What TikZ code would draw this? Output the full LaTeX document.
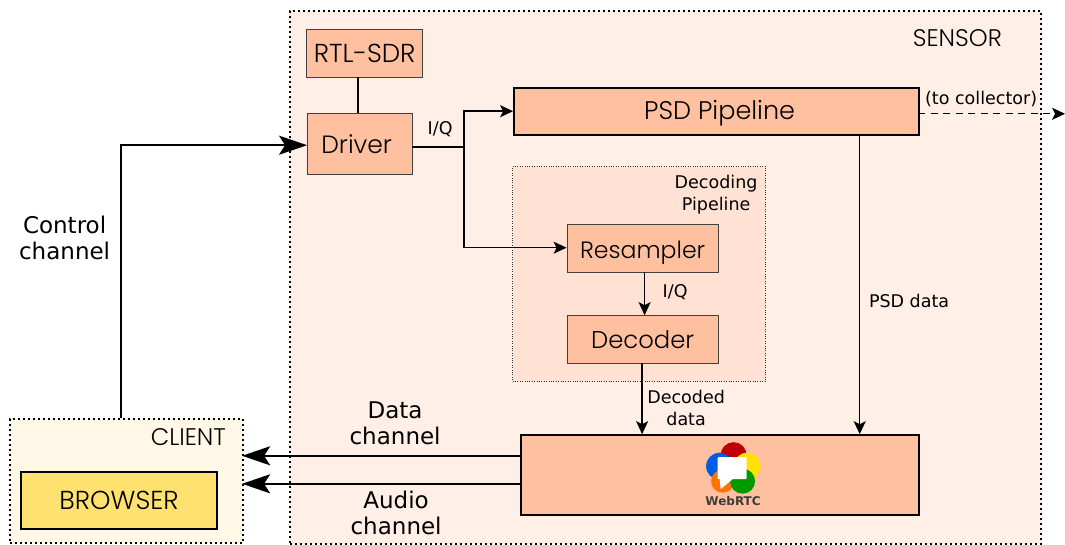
\documentclass[tikz,border=0pt]{standalone}
\usepackage{fontspec}
\setmainfont{DejaVu Sans}
\newfontfamily\boxfont{Poppins Light}
\usetikzlibrary{arrows.meta,positioning}
\definecolor{sensorbg}{HTML}{FFEFE6}
\definecolor{pipebg}{HTML}{FFE2D3}
\definecolor{boxfill}{HTML}{FFC0A0}
\definecolor{clientbg}{HTML}{FFF8E6}
\definecolor{browserfill}{HTML}{FFE170}
\definecolor{logotext}{HTML}{3C3C3C}
\tikzset{
 x=1pt,y=-1pt,
 zone/.style={draw=black,line width=2pt,dash pattern=on 2pt off 3pt},
 subbox/.style={rectangle,draw=black!75,line width=1.1pt,fill=boxfill,inner sep=0,text height=17pt,text depth=0pt,font=\boxfont\fontsize{25}{26}\selectfont},
 mainbox/.style={subbox,draw=black,line width=2pt},
 lab/.style={font=\fontsize{17.5}{20}\selectfont,align=center,inner sep=0},
 big/.style={font=\boxfont\fontsize{24}{26}\selectfont,align=center,inner sep=0},
 wire/.style={line width=1.6pt,draw=black},
 thin wire/.style={line width=1.3pt,draw=black},
 thick wire/.style={line width=2.2pt,draw=black},
 tip/.style={-{Stealth[length=13pt,width=12pt,inset=3pt]}},
 bigtip/.style={-{Stealth[length=28pt,width=19pt,inset=6pt]}},
}
\begin{document}
\begin{tikzpicture}
\useasboundingbox (0.9,0.8) rectangle (1065.9,545.8);
% zones
\node[zone,fill=sensorbg,rectangle,inner sep=0,minimum width=751pt,minimum height=533pt,anchor=north west] (sensor) at (290,11) {};
\node[zone,fill=clientbg,rectangle,inner sep=0,minimum width=233pt,minimum height=124pt,anchor=north west] (client) at (10,419) {};
\node[rectangle,draw=black!80,line width=0.8pt,dash pattern=on 1pt off 1.4pt,fill=pipebg,inner sep=0,minimum width=253pt,minimum height=215pt,anchor=north west] (pipe) at (513,167) {};
% boxes
\node[subbox,font=\boxfont\fontsize{26}{26}\selectfont,minimum width=116pt,minimum height=48pt,anchor=north west] (rtl) at (306.5,30) {\hspace*{1pt}RTL-SDR};
\node[subbox,minimum width=105pt,minimum height=61pt,anchor=north west] (driver) at (308,114) {\hspace*{-7pt}\raisebox{-1pt}{Driver}};
\node[mainbox,font=\boxfont\fontsize{25.5}{26}\selectfont,minimum width=405pt,minimum height=47pt,anchor=north west] (psd) at (514,88) {\hspace*{6pt}\raisebox{1pt}{PSD Pipeline}};
\node[subbox,font=\boxfont\fontsize{23.6}{26}\selectfont,minimum width=151pt,minimum height=48pt,anchor=north west] (resampler) at (567.5,224.5) {\raisebox{-1.5pt}{Resampler}};
\node[subbox,font=\boxfont\fontsize{24.3}{26}\selectfont,minimum width=151pt,minimum height=48pt,anchor=north west] (decoder) at (567.5,316) {Decoder};
\node[mainbox,minimum width=398pt,minimum height=80pt,anchor=north west] (webrtc) at (521,435) {};
\node[rectangle,draw=black,line width=2pt,fill=browserfill,inner sep=0,minimum width=196pt,minimum height=57pt,anchor=north west,text height=17pt,text depth=0pt,font=\boxfont\fontsize{26}{26}\selectfont] (browser) at (21,472) {BROWSER};
% logo
\fill[red!75!black] (734.5,456) circle (13);
\fill[blue!60!cyan!90!black] (720.5,467) circle (13.5);
\fill[yellow!85!orange] (748,467) circle (13.5);
\fill[orange!90!red] (723.5,482) circle (11.5);
\fill[green!60!black] (743.5,482) circle (12.5);
\fill[white,rounded corners=1pt] (718.5,458) rectangle (747.5,480);
\fill[white] (720.5,478) -- (721.5,490) -- (733.5,480) -- cycle;
\node[font=\bfseries\fontsize{12}{14}\selectfont,text=logotext,inner sep=0] (logotxt) at (734,501.5) {WebRTC};
% connectors
\coordinate (split) at (464.6,148);
\coordinate (psdin) at (514,112);
\coordinate (resin) at (567.5,248.5);
\coordinate (drvin) at (308,146);
\coordinate (clientup) at (121.6,419);
\coordinate (corner) at (121.6,146);
\coordinate (out) at (1066,114.6);
\coordinate (psdout) at (919,114.6);
\draw[wire] (359,78) -- (359,114);
\draw[wire] (413,148) -- (split);
\draw[wire,tip] (split) |- (psdin);
\draw[wire,tip] (split) |- (resin);
\draw[wire,tip] (645.5,272.5) -- (645.5,316);
\draw[wire,tip] (643,364) -- (643,435);
\draw[thin wire,tip] (860.6,135) -- (860.6,435);
\draw[line width=1.1pt,dash pattern=on 7pt off 5.5pt,tip] (psdout) -- (out);
\draw[thick wire,bigtip] (clientup) -- (corner) -- (drvin);
\draw[thick wire,bigtip] (521,456.6) -- (243,456.6);
\draw[thick wire,bigtip] (521,484.6) -- (243,484.6);
% labels
\node[big,anchor=east] (sensorlab) at (1003,39) {SENSOR};
\node[big,anchor=east] (clientlab) at (227,438) {CLIENT};
\node[lab] (iq1) at (441,130) {I/Q};
\node[lab] (iq2) at (676,293) {I/Q};
\node[lab] (coll) at (982,100) {(to collector)};
\node[lab,font=\fontsize{17.5}{22}\selectfont] (dp) at (717,195.5) {Decoding\\Pipeline};
\node[lab] (psdd) at (910,302) {PSD data};
\node[lab,font=\fontsize{17.5}{22}\selectfont] (dd) at (687,409) {Decoded\\data};
\node[lab,font=\fontsize{23}{26}\selectfont] (cc) at (65.5,239) {Control\\channel};
\node[lab,font=\fontsize{23}{26}\selectfont] (dc) at (396,424) {Data\\channel};
\node[lab,font=\fontsize{23}{26}\selectfont] (ac) at (397,514) {Audio\\channel};
\end{tikzpicture}
\end{document}
